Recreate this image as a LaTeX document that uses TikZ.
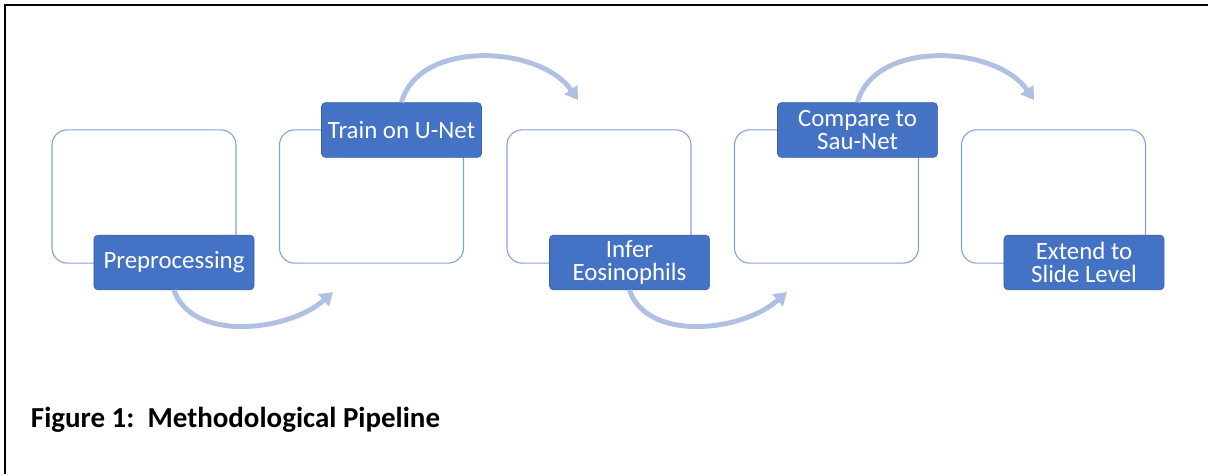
\documentclass[tikz,border=0pt]{standalone}
\usepackage{fontspec}
\setmainfont{Carlito}
\usepackage{tikz}
\usetikzlibrary{arrows.meta}
\definecolor{fillblue}{HTML}{4472C4}
\definecolor{edgeblue}{HTML}{86A3D9}
\definecolor{flowblue}{HTML}{B0C0E2}
\tikzset{box/.style={draw=edgeblue,line width=0.8pt,rounded corners=0.38cm,minimum width=4.6cm,minimum height=3.33cm}}
\tikzset{lab/.style={fill=fillblue,draw=fillblue!85!black,line width=0.4pt,rounded corners=0.1cm,minimum width=4cm,minimum height=1.37cm,text=white,align=center,inner sep=0pt,font=\fontsize{17.7}{16}\selectfont}}
\tikzset{flow/.style={flowblue,line width=3.5pt,-{Triangle[length=9pt,width=11pt]}}}

\begin{document}
\begin{tikzpicture}[x=0.025cm,y=-0.025cm]
          \useasboundingbox (0,0) rectangle (1208,474);
          \draw[line width=1.6pt] (5,474) -- (5,5) -- (1208,5);
          % outline boxes
          \node[box] (B1) at (144,196.5) {};
          \node[box] (B2) at (371.5,196.5) {};
          \node[box] (B3) at (599,196.5) {};
          \node[box] (B4) at (826.5,196.5) {};
          \node[box] (B5) at (1053.5,196.5) {};
          % labels
          \node[lab] (Pre) at (174,262.5) {Preprocessing};
          \node[lab] (Train) at (401.5,130) {Train on U-Net};
          \node[lab] (Infer) at (629.5,262.5) {Infer\\Eosinophils};
          \node[lab] (Comp) at (857.5,130) {Compare to\\Sau-Net};
          \node[lab] (Ext) at (1084,262.5) {Extend to\\Slide Level};
          % arrows
          \coordinate (E1) at (333,292);
          \coordinate (E2) at (578,100);
          \coordinate (E3) at (787,292);
          \coordinate (E4) at (1034,100);
          \draw[flow] (Pre.south) .. controls +(18,52) and +(-45,40) .. (E1);
          \draw[flow] (Train.north) .. controls +(17,-63) and +(-38,-55) .. (E2);
          \draw[flow] (Infer.south) .. controls +(18,52) and +(-45,40) .. (E3);
          \draw[flow] (Comp.north) .. controls +(17,-63) and +(-38,-55) .. (E4);
          \node[anchor=base west,font=\fontsize{20.6}{20}\selectfont\bfseries] (Cap) at (26,427) {Figure 1:\ \ Methodological Pipeline};
        \end{tikzpicture}
\end{document}
